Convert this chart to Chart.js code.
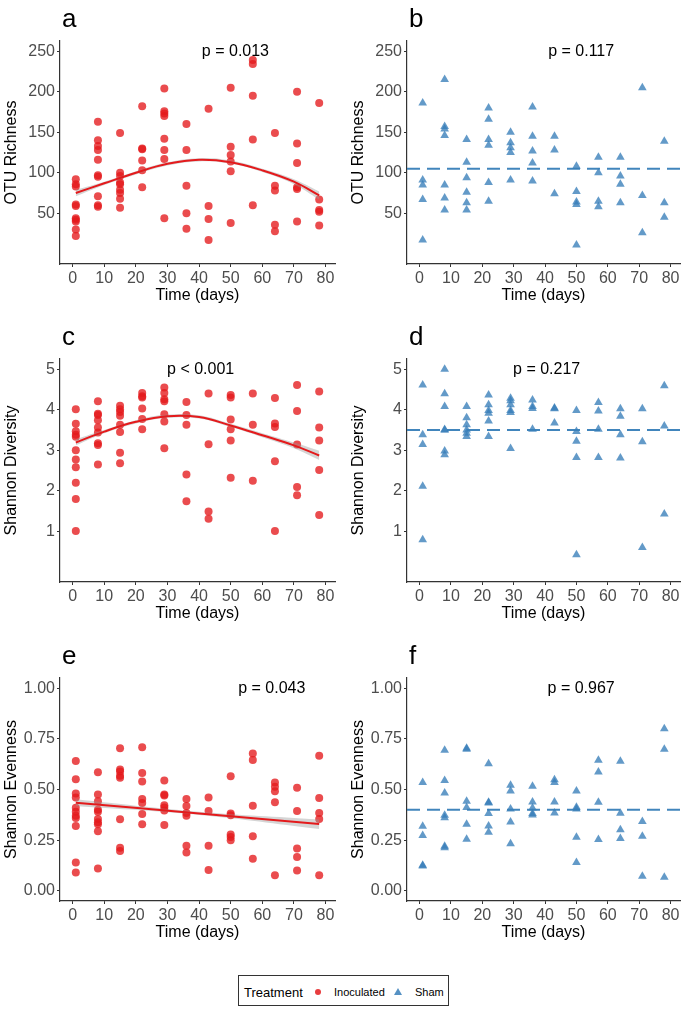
<!DOCTYPE html>
<html>
<head>
<meta charset="utf-8">
<title>Alpha diversity over time</title>
<script src="https://cdn.jsdelivr.net/npm/chart.js@4.4.1/dist/chart.umd.min.js"></script>
<style>
  body { margin: 0; background: #fff; }
  #wrap { position: relative; width: 685px; height: 1011px; font-family: "Liberation Sans", Arial, sans-serif; }
  #wrap canvas { position: absolute; }
  #legend { position: absolute; left: 238px; top: 975px; width: 211px; height: 31px; border: 1px solid #333; box-sizing: border-box; }
  #legend span { position: absolute; white-space: nowrap; color: #000; }
  .lg-title { left: 5px; top: 9px; font-size: 13px; line-height: 15px; }
  .lg-lab { top: 10px; font-size: 11px; line-height: 12px; }
  .dot { left: 76px; top: 13px; width: 6px; height: 6px; border-radius: 50%; background: rgba(228,26,28,0.85); }
  .tri { left: 155px; top: 12px; width: 0; height: 0; border-left: 4px solid transparent; border-right: 4px solid transparent; border-bottom: 7px solid rgba(55,126,184,0.85); }
</style>
</head>
<body>
<div id="wrap">
  <canvas id="pa" width="340" height="314" style="left:0;top:0"></canvas>
  <canvas id="pb" width="338" height="314" style="left:347px;top:0"></canvas>
  <canvas id="pc" width="340" height="314" style="left:0;top:318px"></canvas>
  <canvas id="pd" width="338" height="314" style="left:347px;top:318px"></canvas>
  <canvas id="pe" width="340" height="314" style="left:0;top:637px"></canvas>
  <canvas id="pf" width="338" height="314" style="left:347px;top:637px"></canvas>
  <div id="legend">
    <span class="lg-title">Treatment</span>
    <span class="dot"></span><span class="lg-lab" style="left:95px">Inoculated</span>
    <span class="tri"></span><span class="lg-lab" style="left:176px">Sham</span>
  </div>
</div>
<script>
// ── sampling days ─────────────────────────────────────────
var days = [1, 8, 15, 22, 29, 36, 43, 50, 57, 64, 71, 78];
var xTicks = [0, 10, 20, 30, 40, 50, 60, 70, 80];

// ── values per sampling day (one inner list per day) ──────
var inocRichness = [
  [92, 86, 83, 61, 59, 44, 42, 40, 30, 22],
  [163, 140, 133, 128, 116, 97, 95, 71, 60, 58],
  [149, 100, 96, 88, 86, 79, 75, 68, 57],
  [182, 130, 129, 115, 103, 82],
  [204, 176, 173, 170, 142, 128, 117, 44],
  [160, 128, 84, 50, 31],
  [179, 59, 43, 17],
  [205, 132, 122, 114, 102, 38],
  [239, 234, 195, 141, 60],
  [149, 84, 78, 36, 28],
  [200, 136, 112, 82, 80, 40],
  [186, 67, 54, 52, 35]
];
var shamRichness = [
  [186, 91, 85, 67, 17],
  [215, 157, 154, 146, 85, 69, 54],
  [141, 113, 94, 76, 63, 54],
  [180, 166, 141, 134, 88, 65],
  [150, 137, 131, 125, 91],
  [181, 145, 127, 112, 90],
  [145, 128, 74],
  [108, 77, 64, 61, 11],
  [119, 100, 65, 58],
  [119, 96, 86, 63],
  [205, 72, 26],
  [139, 63, 45]
];
var inocDiversity = [
  [4.01, 3.65, 3.47, 3.38, 3.33, 3.00, 2.77, 2.58, 2.20, 1.80, 1.01],
  [4.21, 3.90, 3.87, 3.74, 3.56, 3.44, 3.17, 3.13, 2.65],
  [4.10, 4.01, 3.94, 3.85, 3.63, 3.45, 2.94, 2.68],
  [4.41, 4.33, 4.30, 4.03, 3.77, 3.52],
  [4.55, 4.41, 4.26, 4.21, 3.89, 3.71, 3.05],
  [4.19, 3.87, 3.63, 2.40, 1.74],
  [4.40, 3.15, 1.49, 1.31],
  [4.36, 4.30, 3.76, 3.52, 3.24, 2.32],
  [4.40, 3.63, 2.25],
  [4.29, 3.66, 3.57, 2.73, 1.01],
  [4.61, 3.97, 3.14, 2.09, 1.89],
  [4.45, 3.56, 3.24, 2.51, 1.40]
];
var shamDiversity = [
  [4.61, 3.38, 3.14, 2.11, 0.79],
  [5.00, 4.39, 4.08, 3.51, 3.49, 2.98, 2.89],
  [4.08, 3.80, 3.63, 3.50, 3.42, 3.34],
  [4.36, 4.12, 3.98, 3.91, 3.72, 3.34],
  [4.28, 4.22, 4.12, 3.98, 3.93, 3.04],
  [4.24, 4.08, 4.03, 3.52],
  [4.04, 4.02, 3.67],
  [3.98, 3.46, 3.22, 2.82, 0.42],
  [4.18, 3.97, 3.52, 2.82],
  [4.02, 3.84, 3.38, 2.81],
  [4.02, 3.21, 0.60],
  [4.59, 3.60, 1.43]
];
var inocEvenness = [
  [0.64, 0.55, 0.48, 0.46, 0.41, 0.39, 0.37, 0.36, 0.32, 0.14, 0.09],
  [0.585, 0.475, 0.442, 0.40, 0.39, 0.355, 0.338, 0.328, 0.294, 0.11],
  [0.704, 0.599, 0.589, 0.568, 0.558, 0.353, 0.213, 0.197],
  [0.708, 0.581, 0.54, 0.453, 0.433, 0.379, 0.328],
  [0.545, 0.475, 0.47, 0.422, 0.411, 0.397, 0.325],
  [0.453, 0.419, 0.384, 0.371, 0.222, 0.189],
  [0.461, 0.394, 0.222, 0.103],
  [0.565, 0.381, 0.373, 0.278, 0.266, 0.25],
  [0.678, 0.645, 0.42, 0.269, 0.158],
  [0.534, 0.514, 0.491, 0.437, 0.077],
  [0.509, 0.394, 0.209, 0.167, 0.10],
  [0.667, 0.458, 0.384, 0.355, 0.077]
];
var shamEvenness = [
  [0.534, 0.319, 0.273, 0.126, 0.123],
  [0.693, 0.545, 0.483, 0.373, 0.361, 0.22, 0.213],
  [0.703, 0.698, 0.442, 0.411, 0.328, 0.255],
  [0.627, 0.437, 0.433, 0.381, 0.32, 0.289],
  [0.521, 0.493, 0.404, 0.34, 0.233],
  [0.516, 0.438, 0.409, 0.381, 0.374],
  [0.548, 0.535, 0.438, 0.384],
  [0.493, 0.412, 0.404, 0.264, 0.14],
  [0.644, 0.586, 0.437, 0.253],
  [0.639, 0.383, 0.302, 0.258],
  [0.342, 0.269, 0.072],
  [0.80, 0.698, 0.067]
];

// ── fitted trends (inoculated) ───────────────────────────
var fitDays = [1, 10, 20, 30, 40, 50, 60, 70, 78];
var richnessFit   = [75, 87, 100, 111, 116, 113, 103, 89, 72];
var richnessFitLo = [71, 85, 98, 109, 114, 111, 101, 86, 67];
var richnessFitHi = [79, 89, 102, 113, 118, 115, 105, 92, 77];
var diversityFit   = [3.19, 3.46, 3.70, 3.84, 3.82, 3.61, 3.37, 3.12, 2.87];
var diversityFitLo = [3.12, 3.42, 3.66, 3.80, 3.78, 3.57, 3.32, 3.05, 2.76];
var diversityFitHi = [3.27, 3.50, 3.74, 3.88, 3.86, 3.65, 3.42, 3.19, 2.99];
var evenFitDays = [1, 40, 78];
var evennessFit   = [0.435, 0.382, 0.330];
var evennessFitLo = [0.418, 0.374, 0.305];
var evennessFitHi = [0.452, 0.390, 0.352];

// ── sham means (dashed lines) ────────────────────────────
var shamRichnessMean = 105;
var shamDiversityMean = 3.5;
var shamEvennessMean = 0.40;

var pValues = ['p = 0.013', 'p = 0.117', 'p < 0.001', 'p = 0.217', 'p = 0.043', 'p = 0.967'];

// ════════════════════════════════════════════════════════
var FONT = '"Liberation Sans", Arial, sans-serif';
var RED = 'rgba(228, 26, 28, 0.78)';
var BLUE = 'rgba(55, 126, 184, 0.78)';
var X_MIN = -4, X_MAX = 83;

var metrics = {
  richness:  { title: 'OTU Richness', min: -12.5, max: 262.5, ticks: [50, 100, 150, 200, 250], fmt: v => String(v) },
  diversity: { title: 'Shannon Diversity', min: -0.25, max: 5.25, ticks: [1, 2, 3, 4, 5], fmt: v => String(v) },
  evenness:  { title: 'Shannon Evenness', min: -0.05, max: 1.05, ticks: [0, 0.25, 0.5, 0.75, 1], fmt: v => v.toFixed(2) }
};

function toPoints(values) {
  return days.flatMap((d, i) => values[i].map(v => ({ x: d, y: v })));
}
function pair(xs, ys) {
  return xs.map((x, i) => ({ x: x, y: ys[i] }));
}

// letter + p-value text drawn in data space
var panelText = {
  id: 'panelText',
  afterDraw(chart, args, opts) {
    var ctx = chart.ctx, area = chart.chartArea;
    ctx.save();
    ctx.fillStyle = '#000';
    ctx.font = '26px ' + FONT;
    ctx.textAlign = 'left';
    ctx.textBaseline = 'alphabetic';
    ctx.fillText(opts.letter, area.left + 2, area.top - 14);
    ctx.font = '16px ' + FONT;
    ctx.textAlign = 'center';
    ctx.textBaseline = 'middle';
    ctx.fillText(opts.p, chart.scales.x.getPixelForValue(opts.at[0]), chart.scales.y.getPixelForValue(opts.at[1]));
    ctx.restore();
  }
};

function axisBase() {
  return {
    grid: { display: true, drawOnChartArea: false, drawTicks: true, tickLength: 3, color: '#333', lineWidth: 1 },
    border: { display: true, color: '#333', width: 1.2 },
    ticks: { color: '#4d4d4d', font: { family: FONT, size: 16 }, padding: 2 }
  };
}

function makePanel(canvasId, opt) {
  var m = metrics[opt.metric];
  var datasets = [];
  var isInoc = opt.group === 'inoc';

  datasets.push({
    data: toPoints(opt.values),
    pointStyle: isInoc ? 'circle' : 'triangle',
    pointRadius: isInoc ? 4 : 5,
    backgroundColor: isInoc ? RED : BLUE,
    borderWidth: 0,
    order: 4
  });

  if (isInoc) {
    datasets.push({ data: pair(opt.fitX, opt.lo), showLine: true, pointRadius: 0, borderWidth: 0, tension: 0.4, order: 3 });
    datasets.push({ data: pair(opt.fitX, opt.hi), showLine: true, pointRadius: 0, borderWidth: 0, tension: 0.4,
      fill: '-1', backgroundColor: 'rgba(150,150,150,0.4)', order: 2 });
    datasets.push({ data: pair(opt.fitX, opt.fit), showLine: true, pointRadius: 0, borderWidth: 2,
      borderColor: '#e41a1c', tension: 0.4, order: 1 });
  } else {
    datasets.push({ data: [{ x: X_MIN, y: opt.mean }, { x: X_MAX, y: opt.mean }], showLine: true, pointRadius: 0,
      borderWidth: 2, borderColor: 'rgba(55,126,184,0.95)', borderDash: [13, 7], order: 1 });
  }

  var x = axisBase();
  x.type = 'linear';
  x.min = X_MIN; x.max = X_MAX;
  x.afterBuildTicks = s => { s.ticks = xTicks.map(v => ({ value: v })); };
  x.afterFit = s => { s.height = 50; };
  x.ticks.maxRotation = 0;
  x.title = { display: true, text: 'Time (days)', color: '#000', font: { family: FONT, size: 16 }, padding: { top: 0, bottom: 9 } };

  var y = axisBase();
  y.type = 'linear';
  y.min = m.min; y.max = m.max;
  y.afterBuildTicks = s => { s.ticks = m.ticks.map(v => ({ value: v })); };
  y.afterFit = s => { s.width = 60; };
  y.ticks.callback = v => m.fmt(v);
  y.title = { display: true, text: m.title, color: '#000', font: { family: FONT, size: 16 }, padding: { top: 2, bottom: 0 } };

  new Chart(document.getElementById(canvasId), {
    type: 'scatter',
    data: { datasets: datasets },
    options: {
      responsive: false,
      animation: false,
      layout: { padding: { top: 41, left: 0, right: isInoc ? 5 : 3, bottom: 0 } },
      plugins: {
        legend: { display: false },
        tooltip: { enabled: false },
        panelText: { letter: opt.letter, p: opt.p, at: opt.pAt }
      },
      scales: { x: x, y: y }
    },
    plugins: [panelText]
  });
}

makePanel('pa', { letter: 'a', metric: 'richness', group: 'inoc', values: inocRichness,
  fitX: fitDays, fit: richnessFit, lo: richnessFitLo, hi: richnessFitHi, p: pValues[0], pAt: [51.5, 250] });
makePanel('pb', { letter: 'b', metric: 'richness', group: 'sham', values: shamRichness,
  mean: shamRichnessMean, p: pValues[1], pAt: [51.5, 250] });
makePanel('pc', { letter: 'c', metric: 'diversity', group: 'inoc', values: inocDiversity,
  fitX: fitDays, fit: diversityFit, lo: diversityFitLo, hi: diversityFitHi, p: pValues[2], pAt: [40.5, 5] });
makePanel('pd', { letter: 'd', metric: 'diversity', group: 'sham', values: shamDiversity,
  mean: shamDiversityMean, p: pValues[3], pAt: [40.5, 5] });
makePanel('pe', { letter: 'e', metric: 'evenness', group: 'inoc', values: inocEvenness,
  fitX: evenFitDays, fit: evennessFit, lo: evennessFitLo, hi: evennessFitHi, p: pValues[4], pAt: [63, 1] });
makePanel('pf', { letter: 'f', metric: 'evenness', group: 'sham', values: shamEvenness,
  mean: shamEvennessMean, p: pValues[5], pAt: [51.5, 1] });
</script>
</body>
</html>
